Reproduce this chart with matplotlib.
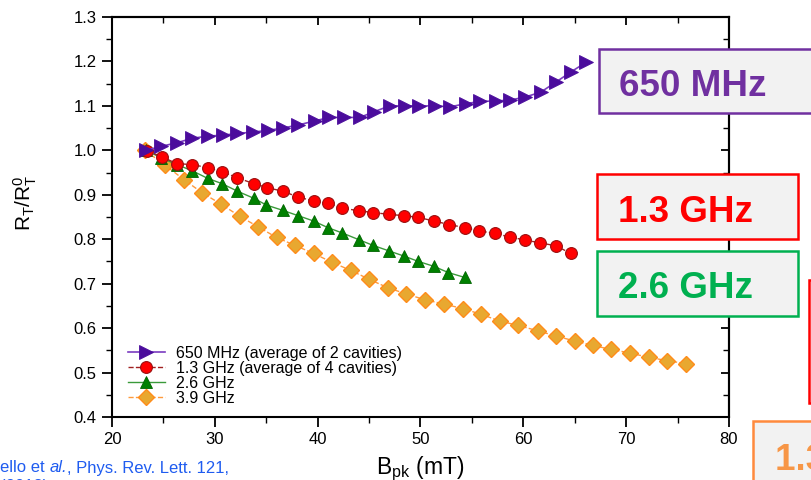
import matplotlib
matplotlib.use("Agg")
import matplotlib.pyplot as plt
from matplotlib.patches import Rectangle
from matplotlib.ticker import MultipleLocator
from matplotlib.offsetbox import TextArea, HPacker, AnchoredOffsetbox

plt.rcParams['font.family'] = ['Liberation Sans', 'DejaVu Sans']
plt.rcParams['mathtext.fontset'] = 'custom'
plt.rcParams['mathtext.rm'] = 'Liberation Sans'
plt.rcParams['mathtext.it'] = 'Liberation Sans:italic'

# ---------------- data ----------------
x_650 = [23.3, 24.8, 26.3, 27.8, 29.3, 30.8, 32.2, 33.7, 35.2, 36.6, 38.1, 39.7, 41.1, 42.6, 44.1,
         45.5, 47.0, 48.5, 49.9, 51.4, 52.9, 54.4, 55.8, 57.3, 58.7, 60.2, 61.7, 63.2, 64.6, 66.1]
y_650 = [1.000, 1.009, 1.017, 1.027, 1.032, 1.034, 1.038, 1.041, 1.045, 1.050, 1.057, 1.066, 1.074, 1.074, 1.074,
         1.087, 1.100, 1.100, 1.100, 1.100, 1.098, 1.105, 1.110, 1.111, 1.113, 1.120, 1.131, 1.154, 1.176, 1.198]

x_13 = [23.4, 24.9, 26.3, 27.8, 29.3, 30.7, 32.2, 33.8, 35.1, 36.6, 38.1, 39.6, 41.0, 42.4, 44.0,
        45.4, 46.9, 48.4, 49.8, 51.3, 52.8, 54.3, 55.7, 57.2, 58.7, 60.2, 61.6, 63.2, 64.6]
y_13 = [0.999, 0.985, 0.970, 0.968, 0.961, 0.952, 0.938, 0.925, 0.916, 0.908, 0.895, 0.886, 0.881, 0.870, 0.864,
        0.860, 0.856, 0.853, 0.849, 0.841, 0.833, 0.826, 0.819, 0.813, 0.805, 0.798, 0.792, 0.785, 0.768]

x_26 = [23.3, 24.8, 26.3, 27.8, 29.3, 30.7, 32.2, 33.8, 35.0, 36.6, 38.1, 39.6, 41.0, 42.4, 44.0,
        45.4, 46.9, 48.4, 49.8, 51.3, 52.7, 54.3]
y_26 = [1.000, 0.983, 0.968, 0.954, 0.937, 0.925, 0.908, 0.892, 0.877, 0.865, 0.853, 0.841, 0.826, 0.814, 0.799,
        0.786, 0.774, 0.762, 0.750, 0.739, 0.725, 0.714]

x_39 = [23.2, 25.2, 27.0, 28.8, 30.6, 32.4, 34.2, 36.0, 37.8, 39.6, 41.4, 43.2, 45.0, 46.8, 48.6,
        50.4, 52.3, 54.1, 55.9, 57.7, 59.5, 61.4, 63.2, 65.0, 66.8, 68.5, 70.4, 72.2, 74.0, 75.8]
y_39 = [1.000, 0.966, 0.934, 0.904, 0.879, 0.852, 0.828, 0.804, 0.786, 0.768, 0.748, 0.730, 0.710, 0.691, 0.677,
        0.664, 0.654, 0.644, 0.631, 0.616, 0.606, 0.594, 0.582, 0.571, 0.561, 0.552, 0.544, 0.534, 0.527, 0.520]

labels = ["650 MHz (average of 2 cavities)", "1.3 GHz (average of 4 cavities)", "2.6 GHz", "3.9 GHz"]
x_ticks = [20, 30, 40, 50, 60, 70, 80]
y_ticks = [0.4, 0.5, 0.6, 0.7, 0.8, 0.9, 1.0, 1.1, 1.2, 1.3]

W, H = 812, 480
fig = plt.figure(figsize=(W / 100, H / 100), dpi=100)
ax = fig.add_axes([112 / W, 1 - 417 / H, (729 - 112) / W, (417 - 17) / H])

ax.plot(x_39, y_39, ls='--', lw=1.0, color='#ff9a3c', marker='D', ms=8,
        mfc='#e8a830', mec='#ff8c1a', mew=1.0, label=labels[3], zorder=2)
ax.plot(x_26, y_26, ls='-', lw=1.0, color='#3a9a3a', marker='^', ms=9,
        mfc='#008000', mec='#006400', mew=0.6, label=labels[2], zorder=3)
ax.plot(x_13, y_13, ls='--', lw=1.0, color='#a02020', marker='o', ms=8.5,
        mfc='#ff0000', mec='#9a1010', mew=0.8, label=labels[1], zorder=4)
ax.plot(x_650, y_650, ls='-', lw=1.2, color='#7a3cc0', marker='>', ms=9.5,
        mfc='#4b0c9c', mec='#4b0c9c', mew=0.6, label=labels[0], zorder=5)

ax.set_xlim(20, 80)
ax.set_ylim(0.4, 1.3)
ax.set_xticks(x_ticks)
ax.set_yticks(y_ticks)
ax.set_yticklabels([f"{v:.1f}" for v in y_ticks])
ax.xaxis.set_minor_locator(MultipleLocator(5))
ax.yaxis.set_minor_locator(MultipleLocator(0.05))
ax.tick_params(which='major', direction='out', length=7, width=1.3, labelsize=12, pad=4, colors='black')
ax.tick_params(which='minor', direction='out', length=4, width=1.0)
for s in ax.spines.values():
    s.set_linewidth(1.5)

secx = ax.secondary_xaxis('top')
secx.set_xticks(x_ticks)
secx.xaxis.set_minor_locator(MultipleLocator(5))
secx.tick_params(which='major', direction='in', length=6, width=1.3, labeltop=False)
secx.tick_params(which='minor', direction='in', length=4, width=1.0)
secx.spines['top'].set_linewidth(1.5)
secy = ax.secondary_yaxis('right')
secy.set_yticks(y_ticks)
secy.yaxis.set_minor_locator(MultipleLocator(0.05))
secy.tick_params(which='major', direction='in', length=6, width=1.3, labelright=False)
secy.tick_params(which='minor', direction='in', length=4, width=1.0)
secy.spines['right'].set_linewidth(1.5)

ax.set_xlabel(r"B$_{\rm pk}$ (mT)", fontsize=16.5)
ax.xaxis.set_label_coords(0.5, -0.093)
ax.set_ylabel(r"R$_{\rm T}$/R$_{\rm T}^{0}$", fontsize=15)
ax.yaxis.set_label_coords(-0.118, 0.535)

handles, labs = ax.get_legend_handles_labels()
order = [3, 2, 1, 0]
leg = ax.legend([handles[i] for i in order], [labs[i] for i in order], loc='lower left',
                bbox_to_anchor=(0.0, -0.012), frameon=False, fontsize=11.5, numpoints=1,
                handlelength=2.3, handletextpad=0.7, labelspacing=0.0, borderaxespad=0.6)

# annotation boxes (figure pixel coordinates)
def box(x0, y0, x1, y1, edge, face, lw=1.8):
    fig.patches.append(Rectangle((x0 / W, 1 - y1 / H), (x1 - x0) / W, (y1 - y0) / H,
                                 transform=fig.transFigure, facecolor=face, edgecolor=edge,
                                 linewidth=lw, zorder=10))

def label(x, yc, s, color):
    fig.text(x / W, 1 - yc / H, s, color=color, fontsize=26.5, fontweight='bold',
             ha='left', va='center_baseline', zorder=11)

box(599, 49, 830, 113, '#7030a0', '#f2f2f2')
label(619, 83, "650 MHz", '#7030a0')
box(597, 174, 798, 239, '#ff0000', '#f2f2f2')
label(618, 208, "1.3 GHz", '#ff0000')
box(597, 251, 798, 316, '#00b050', '#f2f2f2')
label(618, 285, "2.6 GHz", '#00b050')
box(809, 280, 840, 403, '#ff0000', 'white')
box(753, 421, 840, 500, '#ff8a3d', '#f2f2f2')
label(775, 456, "1.3 GHz", '#f79646')

# citation (partially cut like the reference)
cite_col = '#1f5cf0'
parts = HPacker(children=[
    TextArea("ello et ", textprops=dict(color=cite_col, fontsize=12)),
    TextArea("al.", textprops=dict(color=cite_col, fontsize=12, style='italic')),
    TextArea(", Phys. Rev. Lett. 121,", textprops=dict(color=cite_col, fontsize=12)),
], sep=0, pad=0, align='baseline')
ab = AnchoredOffsetbox(loc='center left', child=parts, pad=0, borderpad=0, frameon=False,
                       bbox_to_anchor=(0.0, 1 - 468 / H), bbox_transform=fig.transFigure)
fig.add_artist(ab)
fig.text(0.0, 1 - 487 / H, "(2018)", color=cite_col, fontsize=12, ha='left', va='center')

fig.savefig("out.png", dpi=100)
